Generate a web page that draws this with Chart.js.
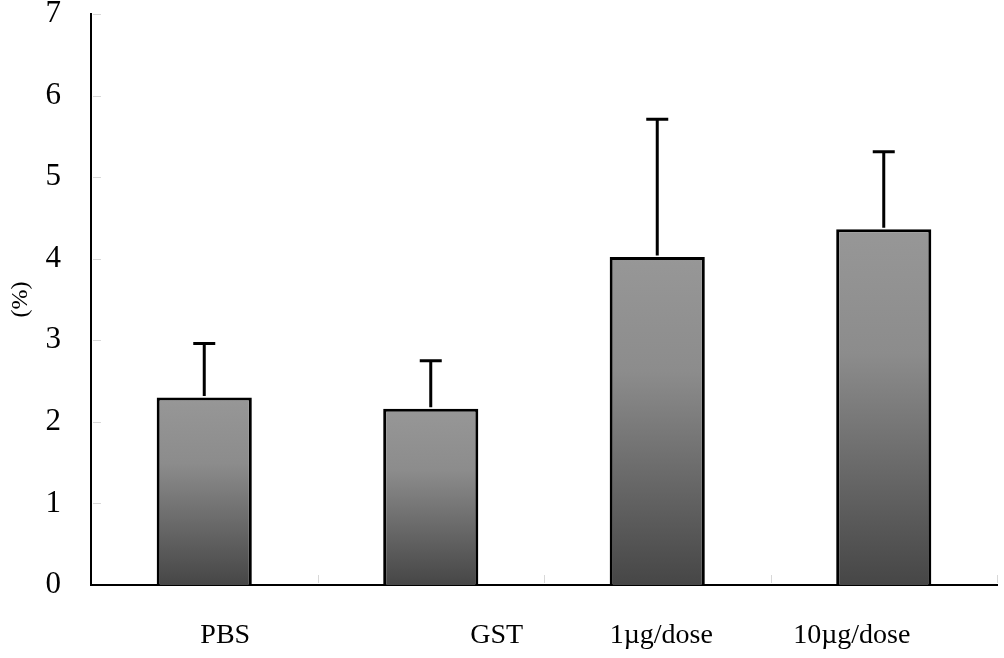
<!DOCTYPE html>
<html>
<head>
<meta charset="utf-8">
<script src="https://cdn.jsdelivr.net/npm/chart.js@4.4.0/dist/chart.umd.min.js"></script>
<style>
  html, body { margin: 0; padding: 0; background: #fff; }
  #wrap { width: 1004px; height: 658px; position: relative; }
</style>
</head>
<body>
<div id="wrap"><canvas id="barChart"></canvas></div>
<script>
// Data
const categories = ['PBS', 'GST', '1\u00b5g/dose', '10\u00b5g/dose'];
const means = [2.30, 2.16, 4.02, 4.36];
const errors = [0.66, 0.59, 1.69, 0.95];
const yTicks = [0, 1, 2, 3, 4, 5, 6, 7];

// labels in the original sit off-centre of their bars
const labelShift = [21, 66, 4, -32];

const serif = '"Liberation Serif", "DejaVu Serif", serif';

// Gradient fill for each bar, light at top, dark at base
function barGradient(context) {
  const chart = context.chart;
  const y = chart.scales.y;
  if (!chart.chartArea || !y) return '#777';
  const top = y.getPixelForValue(context.raw);
  const base = y.getPixelForValue(0);
  const g = chart.ctx.createLinearGradient(0, top, 0, base);
  g.addColorStop(0, '#979797');
  g.addColorStop(0.35, '#8c8c8c');
  g.addColorStop(1, '#464646');
  return g;
}

// Faint inner tick marks on both axes
const innerTicks = {
  id: 'innerTicks',
  beforeDatasetsDraw(chart) {
    const ctx = chart.ctx;
    const { left, bottom } = chart.chartArea;
    const x = chart.scales.x;
    const y = chart.scales.y;
    ctx.save();
    ctx.strokeStyle = '#d8d8d8';
    ctx.lineWidth = 1;
    ctx.beginPath();
    yTicks.forEach((v) => {
      if (v === 0) return;
      const py = Math.round(y.getPixelForValue(v)) + 0.5;
      ctx.moveTo(left + 2, py);
      ctx.lineTo(left + 10, py);
    });
    for (let i = 1; i <= categories.length; i++) {
      const px = Math.round(x.getPixelForValue(i - 0.5)) + 0.5;
      ctx.moveTo(px, bottom - 2);
      ctx.lineTo(px, bottom - 10);
    }
    ctx.stroke();
    ctx.restore();
  }
};

// Error bars (upper only)
const errorBars = {
  id: 'errorBars',
  afterDatasetsDraw(chart) {
    const ctx = chart.ctx;
    const meta = chart.getDatasetMeta(0);
    const y = chart.scales.y;
    ctx.save();
    ctx.strokeStyle = '#000';
    ctx.lineWidth = 3;
    meta.data.forEach((bar, i) => {
      const top = y.getPixelForValue(means[i] + errors[i]);
      ctx.beginPath();
      ctx.moveTo(bar.x, bar.y - 1.5);
      ctx.lineTo(bar.x, top);
      ctx.moveTo(bar.x - 11, top);
      ctx.lineTo(bar.x + 11, top);
      ctx.stroke();
    });
    ctx.restore();
  }
};

// Category labels drawn below the axis
const categoryLabels = {
  id: 'categoryLabels',
  afterDraw(chart) {
    const ctx = chart.ctx;
    const x = chart.scales.x;
    ctx.save();
    ctx.fillStyle = '#000';
    ctx.font = '28px ' + serif;
    ctx.textAlign = 'center';
    ctx.textBaseline = 'middle';
    categories.forEach((c, i) => {
      ctx.fillText(c, x.getPixelForValue(i) + labelShift[i], chart.chartArea.bottom + 51);
    });
    ctx.restore();
  }
};

new Chart(document.getElementById('barChart'), {
  type: 'bar',
  data: {
    labels: categories,
    datasets: [
      {
        data: means,
        backgroundColor: barGradient,
        borderColor: '#000',
        borderWidth: 3,
        borderSkipped: 'bottom',
        barPercentage: 0.42,
        categoryPercentage: 1,
      },
    ],
  },
  options: {
    responsive: true,
    maintainAspectRatio: false,
    animation: false,
    layout: {
      padding: { top: 14, right: 7, bottom: 0, left: 0 },
    },
    plugins: {
      legend: { display: false },
      tooltip: { enabled: false },
    },
    scales: {
      x: {
        grid: { display: false },
        border: { color: '#000', width: 2 },
        ticks: { display: false },
        afterFit(scale) {
          scale.height = 73;
        },
      },
      y: {
        min: 0,
        max: 7,
        afterBuildTicks(scale) {
          scale.ticks = yTicks.map((v) => ({ value: v }));
        },
        grid: { display: false },
        border: { color: '#000', width: 2 },
        ticks: {
          color: '#000',
          padding: 22,
          font: { family: serif, size: 31 },
        },
        title: {
          display: true,
          text: '(%)',
          color: '#000',
          font: { family: serif, size: 24 },
          padding: { top: 6, bottom: 8 },
        },
        afterFit(scale) {
          scale.width = 91;
          scale.paddingTop = 0;
          scale.paddingBottom = 0;
        },
      },
    },
  },
  plugins: [innerTicks, errorBars, categoryLabels],
});
</script>
</body>
</html>
